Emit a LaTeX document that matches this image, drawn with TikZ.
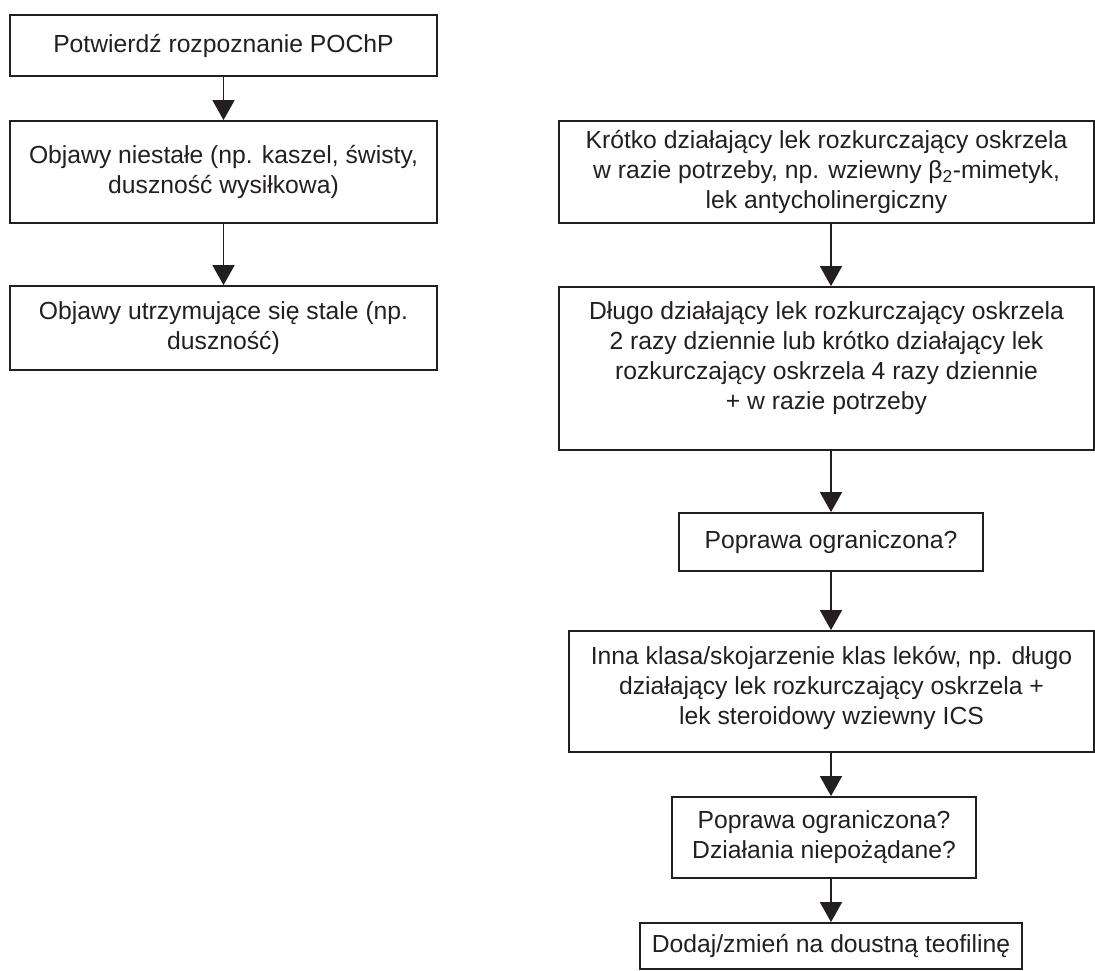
\documentclass[tikz,border=0pt]{standalone}
\usepackage{fontspec}
\setmainfont{Liberation Sans}
\usetikzlibrary{arrows.meta}
\definecolor{ink}{HTML}{231F20}
\begin{document}
\begin{tikzpicture}[x=1pt,y=-1pt,
  boxfont/.style={font=\fontsize{24.7}{30}\selectfont, text=ink, align=center},
  box/.style={draw=ink, line width=1.8pt, inner sep=0pt, boxfont},
  flow/.style={draw=ink, line width=1.6pt, -{Triangle[width=22pt,length=20pt]}}]
\useasboundingbox (0,0) rectangle (1095,971);

% left column
\node[box, minimum width=427pt, minimum height=61pt] (L1) at (223.5,45.5)
  {Potwierdź rozpoznanie POChP};
\node[box, minimum width=427pt, minimum height=102pt] (L2) at (223.5,172)
  {Objawy niestałe (np. kaszel, świsty,\\ duszność wysiłkowa)};
\node[box, minimum width=427pt, minimum height=84pt] (L3) at (223.5,328)
  {Objawy utrzymujące się stale (np.\\ duszność)};

% right column
\coordinate (axis) at (831,0);
\node[box, minimum width=535pt, minimum height=102pt] (A) at (826.5,172)
  {Krótko działający lek rozkurczający oskrzela\\ w razie potrzeby, np. wziewny β\textsubscript{2}-mimetyk,\\ lek antycholinergiczny};
\node[box, minimum width=535pt, minimum height=163pt,
  label={[boxfont, yshift=10pt]center:{Długo działający lek rozkurczający oskrzela\\ 2 razy dziennie lub krótko działający lek\\ rozkurczający oskrzela 4 razy dziennie\\ + w razie potrzeby}}]
  (B) at (826.5,368.5) {};
\node[box, minimum width=304pt, minimum height=58pt] (C) at (831,542)
  {Poprawa ograniczona?};
\node[box, minimum width=525pt, minimum height=121pt,
  label={[boxfont, yshift=4pt]center:{Inna klasa/skojarzenie klas leków, np. długo\\ działający lek rozkurczający oskrzela +\\ lek steroidowy wziewny ICS}}]
  (D) at (831.5,691.5) {};
\node[box, minimum width=304pt, minimum height=81pt] (E) at (824,837.5)
  {Poprawa ograniczona?\\ Działania niepożądane?};
\node[box, minimum width=382pt, minimum height=46pt] (F) at (831,946)
  {Dodaj/zmień na doustną teofilinę};

% connectors
\draw[flow] (L1.south) -- (L2.north);
\draw[flow] (L2.south) -- (L3.north);
\draw[flow] (A.south -| axis) -- (B.north -| axis);
\draw[flow] (B.south -| axis) -- (C.north -| axis);
\draw[flow] (C.south -| axis) -- (D.north -| axis);
\draw[flow] (D.south -| axis) -- (E.north -| axis);
\draw[flow] (E.south -| axis) -- (F.north -| axis);
\end{tikzpicture}
\end{document}
